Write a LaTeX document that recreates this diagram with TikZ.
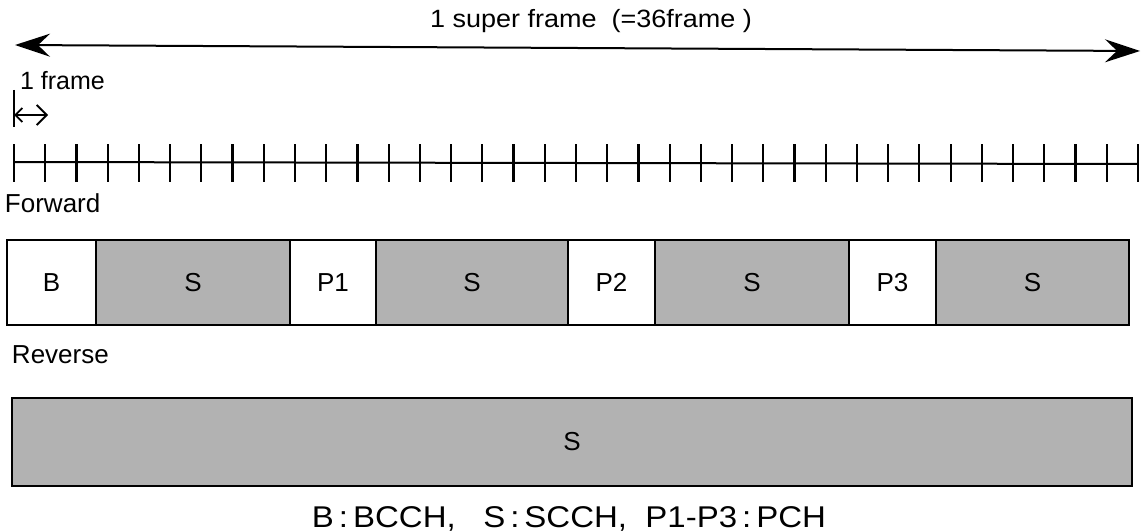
\documentclass[tikz,border=0pt]{standalone}
\usepackage{fontspec}
\setmainfont{Liberation Sans}
\newfontfamily\widefont[FakeStretch=1.08]{Liberation Sans}
\newfontfamily\widerfont[FakeStretch=1.1]{Liberation Sans}
\usetikzlibrary{arrows.meta}
\begin{document}
\begin{tikzpicture}[x=1pt,y=-1pt,
  lbl/.style={inner sep=0pt, outer sep=0pt, font=\fontsize{26}{30}\selectfont},
  cell/.style={draw, line width=1.9pt, anchor=north west, outer sep=0pt, inner sep=0pt,
    minimum height=85pt, font=\fontsize{26}{30}\selectfont},
  blank/.style={cell, fill=white},
  shade/.style={cell, fill=black!30},
  thick line/.style={line width=2pt},
  bigarrow/.style={line width=2pt, {Stealth[length=35pt,width=23pt,inset=12pt]}-{Stealth[length=35pt,width=23pt,inset=12pt]}},
]
\useasboundingbox (0,0) rectangle (1142,532);

% super frame arrow
\coordinate (L) at (15,45);
\coordinate (R) at (1140,51);
\draw[bigarrow] (L) -- (R);
\node[lbl, anchor=base, font=\widefont\fontsize{25}{30}\selectfont] (title) at (591,28) {1 super frame\ \ (=36frame\ )};

% 1 frame
\node[lbl, anchor=base west, font=\fontsize{25}{30}\selectfont] (oneframe) at (20,90) {1 frame};
\coordinate (fb1) at (14,90);
\coordinate (fb2) at (14,127);
\draw[thick line] (fb1) -- (fb2);
\coordinate (fa1) at (14,115);
\coordinate (fa2) at (48,115);
\draw[line width=1.8pt, {Straight Barb[length=7pt,width=14pt]}-{Straight Barb[length=10pt,width=20pt]}] (fa1) -- (fa2);

% tick line
\coordinate (T0) at (14,162);
\coordinate (T1) at (1138,164);
\draw[thick line] (T0) -- (T1);
\foreach \i in {0,...,36} {
  \draw[line width=2.2pt] ({14+\i*31.22},144) -- ({14+\i*31.22},182);
}

% Forward
\node[lbl, anchor=base west] (fwd) at (5,212) {Forward};
\node[blank, minimum width=89pt]  (b)  at (7,240)   {B};
\node[shade, minimum width=194pt] (s1) at (96,240)  {S};
\node[blank, minimum width=86pt]  (p1) at (290,240) {P1};
\node[shade, minimum width=192pt] (s2) at (376,240) {S};
\node[blank, minimum width=87pt]  (p2) at (568,240) {P2};
\node[shade, minimum width=194pt] (s3) at (655,240) {S};
\node[blank, minimum width=87pt]  (p3) at (849,240) {P3};
\node[shade, minimum width=193pt] (s4) at (936,240) {S};

% Reverse
\node[lbl, anchor=base west] (rev) at (12,363) {Reverse};
\node[shade, minimum width=1120pt, minimum height=88pt] (rs) at (12,398) {S};

% legend
\node[lbl, anchor=base, font=\widerfont\fontsize{30}{34}\selectfont] (legend) at (569,527) {B\,:\,BCCH,\ \ \ S\,:\,SCCH,\ \ P1-P3\,:\,PCH};
\end{tikzpicture}
\end{document}
